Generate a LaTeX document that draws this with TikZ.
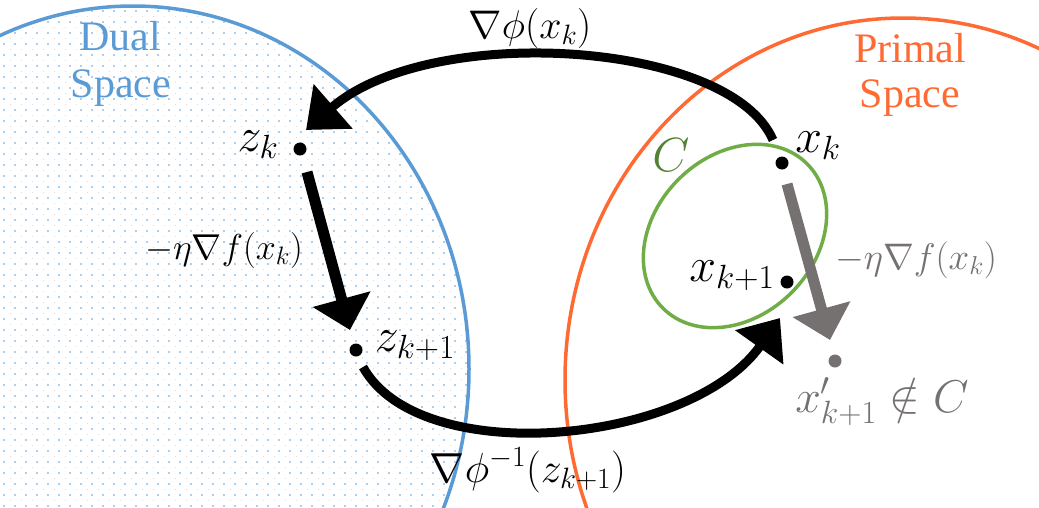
\RequirePackage{fix-cm}
\documentclass[tikz,border=0pt]{standalone}
\usepackage[no-math]{fontspec}
\newfontfamily\spacefont{Liberation Serif}
\usetikzlibrary{arrows.meta}
\definecolor{dualblue}{HTML}{5B9BD5}
\definecolor{primalorange}{HTML}{FF6A33}
\definecolor{setgreen}{HTML}{70AD47}
\definecolor{labgreen}{HTML}{548235}
\definecolor{stepgray}{HTML}{767171}
\definecolor{dotblue}{RGB}{175,205,238}
\definecolor{dotgray}{RGB}{220,220,222}
\begin{document}
\begin{tikzpicture}[x=1pt,y=-1pt,
  region/.style={line width=3.5pt},
  spacelabel/.style={anchor=base,inner sep=0pt,font=\fontsize{42}{46}\selectfont},
  pt/.style={circle,fill=black,inner sep=0pt,minimum size=13pt},
  ptlabel/.style={anchor=base,inner sep=0pt,font=\fontsize{48}{52}\selectfont},
  maplabel/.style={anchor=base,inner sep=0pt},
  bigarrow/.style={line width=9pt,-{Triangle[width=57pt,length=36pt]}},
  steparrow/.style={line width=11pt,-{Triangle[width=58pt,length=32pt]}},
]
\useasboundingbox (0,0) rectangle (1039,507);
% dotted background of the dual space
\begin{scope}
  \clip (133,369) ellipse [x radius=336pt,y radius=363pt];
  \foreach \i in {0,...,43}{
    \foreach \j in {0,...,46}{
      \fill[dotblue] (3+11*\i,11*\j-0.7) rectangle ++(2,1.4);
      \fill[dotgray] (-1.5+11*\i,5+11*\j) rectangle ++(1.2,1.2);
    }
  }
\end{scope}
\draw[region,dualblue] (133,369) ellipse [x radius=336pt,y radius=363pt];
\draw[region,primalorange] (903,380) ellipse [x radius=338pt,y radius=362pt];
\draw[region,setgreen,shift={(735,236)},rotate=45] (0,0) ellipse [x radius=102pt,y radius=80pt];
% region labels
\node[spacelabel,text=dualblue] (dual1) at (120,50) {\spacefont Dual};
\node[spacelabel,text=dualblue] (dual2) at (121,97) {\spacefont Space};
\node[spacelabel,text=primalorange] (primal1) at (910,62) {\spacefont Primal};
\node[spacelabel,text=primalorange] (primal2) at (910,107) {\spacefont Space};
% points
\node[pt] (zk) at (300,149) {};
\node[pt] (zk1) at (356,350) {};
\node[pt] (xk) at (782,163) {};
\node[pt] (xk1) at (787,282) {};
\node[pt,fill=stepgray] (xp) at (835,361) {};
\node[ptlabel] (zklab) at (258,151) {$z_k$};
\node[ptlabel] (zk1lab) at (415,351) {$z_{k+1}$};
\node[ptlabel] (xklab) at (818,152) {$x_k$};
\node[ptlabel] (xk1lab) at (732,281) {$x_{k+1}$};
\node[ptlabel,text=labgreen] (Clab) at (671,171) {$C$};
\node[ptlabel,font=\fontsize{46}{50}\selectfont,text=stepgray] (xplab) at (882,412) {$x'_{k+1}\notin C$};
% map labels
\node[maplabel,font=\fontsize{40}{44}\selectfont] (gradphi) at (530,38) {$\nabla\phi(x_k)$};
\node[maplabel,font=\fontsize{36}{40}\selectfont] (stepz) at (224,259) {$-\eta\nabla f(x_k)$};
\node[maplabel,font=\fontsize{37}{40}\selectfont,text=stepgray] (stepx) at (916,269) {$-\eta\nabla f(x_k)$};
\node[maplabel,font=\fontsize{42}{46}\selectfont] (invgrad) at (528,482) {$\nabla\phi^{-1}(z_{k+1})$};
% arrows
\draw[bigarrow] ([shift={(-9,-23)}]xk.center) .. controls (730,40) and (430,22) .. ([shift={(6,-19)}]zk.center);
\draw[steparrow] ([shift={(7,23)}]zk.center) -- ([shift={(-6,-20)}]zk1.center);
\draw[bigarrow] ([shift={(7,17)}]zk1.center) .. controls (420,470) and (690,445) .. ([shift={(-7,36)}]xk1.center);
\draw[steparrow,stepgray] ([shift={(5,21)}]xk.center) -- ([shift={(-5,-21)}]xp.center);
\end{tikzpicture}
\end{document}
